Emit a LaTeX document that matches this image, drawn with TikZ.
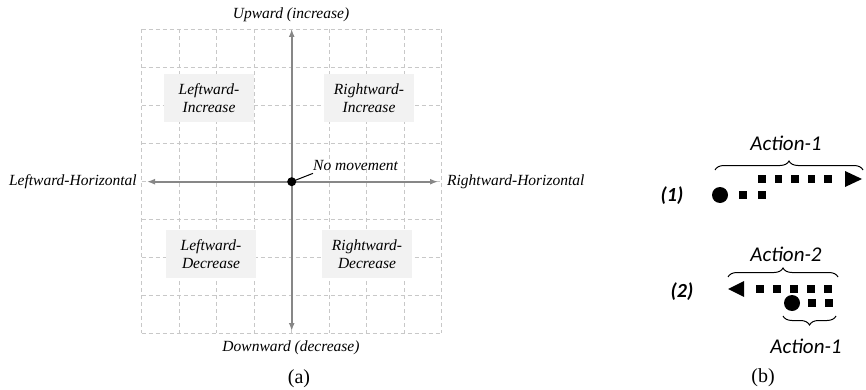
\documentclass[tikz,border=0pt]{standalone}
\usepackage{fontspec}
\setmainfont{Liberation Serif}
\newfontfamily\calib{Carlito}
\usetikzlibrary{arrows.meta,decorations.pathreplacing}
\definecolor{gridc}{RGB}{200,200,200}
\definecolor{axisc}{RGB}{135,135,135}
\definecolor{boxc}{RGB}{242,242,242}
\tikzset{
  gridline/.style={gridc,line width=0.9pt,dash pattern=on 4pt off 3pt},
  axisline/.style={axisc,line width=2pt,-{Latex[length=8pt,width=6pt]}},
  lbl/.style={font=\fontsize{15.5}{18}\selectfont\itshape,inner sep=0pt},
  regbox/.style={fill=boxc,minimum width=90pt,minimum height=48pt,align=center,font=\fontsize{15.5}{18}\selectfont\itshape,inner sep=0pt},
  sq/.style={fill=black,minimum size=7.5pt,inner sep=0pt},
  dotb/.style={circle,fill=black,minimum size=16pt,inner sep=0pt},
  albl/.style={font=\calib\fontsize{21}{23}\selectfont\itshape,inner sep=0pt},
  nlbl/.style={font=\calib\fontsize{20}{22}\selectfont\bfseries\itshape,inner sep=0pt},
  brc/.style={decorate,decoration={brace,amplitude=9pt},line width=1pt},
  figcap/.style={font=\fontsize{20}{22}\selectfont,inner sep=0pt}
}
\begin{document}
\begin{tikzpicture}[x=1pt,y=-1pt]
\useasboundingbox (0,0) rectangle (866,390);
% grid
\foreach \i in {0,...,8} {
  \draw[gridline] ({141.7+\i*37.5},29.3) -- ({141.7+\i*37.5},333.3);
  \draw[gridline] (141.7,{29.3+\i*38}) -- (441.7,{29.3+\i*38});
}
% region boxes
\node[regbox] (li) at (209,98) {Leftward-\\Increase};
\node[regbox] (ri) at (369,98) {Rightward-\\Increase};
\node[regbox] (ld) at (211,254) {Leftward-\\Decrease};
\node[regbox] (rd) at (367,254) {Rightward-\\Decrease};
% axes
\coordinate (o) at (291.7,181.7);
\coordinate (top) at (291.7,29);
\coordinate (bot) at (291.7,331);
\coordinate (lft) at (147,181.7);
\coordinate (rgt) at (438,181.7);
\draw[axisline] (o) -- (top);
\draw[axisline] (o) -- (bot);
\draw[axisline] (o) -- (lft);
\draw[axisline] (o) -- (rgt);
\node[circle,fill=black,minimum size=9pt,inner sep=0pt] (dot) at (o) {};
\node[lbl,anchor=west] (nm) at (313,166) {No movement};
\draw[line width=1pt] (dot.center) -- ([yshift=-2pt]nm.south west);
\node[lbl] (up) at (291,15) {Upward (increase)};
\node[lbl] (down) at (291,348) {Downward (decrease)};
\node[lbl,anchor=east] (lh) at (137,182) {Leftward-Horizontal};
\node[lbl,anchor=west] (rh) at (447,182) {Rightward-Horizontal};
\node[figcap] (a) at (299,379) {(a)};
% part (b) row 1
\node[nlbl] (n1) at (672,196) {(1)};
\node[dotb] (c1) at (720,195) {};
\node[sq] (s11) at (743,195) {};
\node[sq] (s12) at (762,195) {};
\foreach \k/\xx in {1/762,2/778.5,3/795,4/811.5,5/828} {
  \node[sq] (t1\k) at (\xx,179) {};
}
\fill (845,171) -- (862,179) -- (845,187) -- cycle;
\coordinate (b1l) at (715,170);
\coordinate (b1r) at (863,170);
\draw[brc] (b1l) -- (b1r);
\node[albl] (a1) at (786,143) {Action-1};
% row 2
\node[nlbl] (n2) at (682,292) {(2)};
\fill (728,289) -- (744,281) -- (744,297) -- cycle;
\foreach \k/\xx in {1/760,2/777,3/794,4/811,5/828} {
  \node[sq] (t2\k) at (\xx,289) {};
}
\node[dotb] (c2) at (792,303) {};
\node[sq] (s21) at (812,303) {};
\node[sq] (s22) at (829,303) {};
\coordinate (b2l) at (728,277);
\coordinate (b2r) at (838,277);
\draw[brc] (b2l) -- (b2r);
\node[albl] (a2) at (786,254) {Action-2};
\coordinate (b3l) at (783,316);
\coordinate (b3r) at (836,316);
\draw[brc] (b3r) -- (b3l);
\node[albl] (a3) at (806,346) {Action-1};
\node[figcap] (b) at (763,378) {(b)};
\end{tikzpicture}
\end{document}
